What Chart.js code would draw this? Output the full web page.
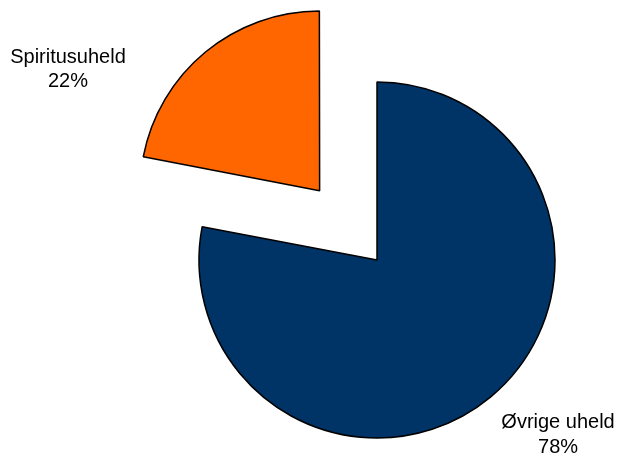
<!DOCTYPE html>
<html>
<head>
<meta charset="utf-8">
<script src="https://cdn.jsdelivr.net/npm/chart.js@4/dist/chart.umd.min.js"></script>
<style>
html,body{margin:0;padding:0;background:#fff;}
#wrap{width:618px;height:454px;}
</style>
</head>
<body>
<div id="wrap"><canvas id="c" width="618" height="454"></canvas></div>
<script>
const categories = ["Øvrige uheld", "Spiritusuheld"];
const shares = [78, 22];
const percentLabels = ["78%", "22%"];
const sliceColors = ["#003366", "#FF6600"];

const labelPlugin = {
  id: 'sliceLabels',
  afterDatasetsDraw(chart) {
    const ctx = chart.ctx;
    const meta = chart.getDatasetMeta(0);
    const el = meta.data[0];
    const cx = el.x, cy = el.y, r = el.outerRadius;
    const pos = [
      [cx + r * 1.017, cy + r * 0.944],
      [cx - r * 1.736, cy - r * 1.107]
    ];
    ctx.save();
    ctx.fillStyle = '#000';
    ctx.font = '20px "Liberation Sans", Arial, sans-serif';
    ctx.textAlign = 'center';
    ctx.textBaseline = 'alphabetic';
    categories.forEach((c, i) => {
      ctx.fillText(c, pos[i][0], pos[i][1]);
      ctx.fillText(percentLabels[i], pos[i][0], pos[i][1] + 24.5);
    });
    ctx.restore();
  }
};

new Chart(document.getElementById('c'), {
  type: 'pie',
  data: {
    labels: categories,
    datasets: [{
      data: shares,
      backgroundColor: sliceColors,
      borderColor: '#000',
      borderWidth: 1.5,
      offset: [0, 360],
      radius: 178
    }]
  },
  options: {
    responsive: false,
    animation: false,
    layout: { padding: { left: 136, right: 0, top: 66, bottom: 0 } },
    plugins: { legend: { display: false }, tooltip: { enabled: false } }
  },
  plugins: [labelPlugin]
});
</script>
</body>
</html>
